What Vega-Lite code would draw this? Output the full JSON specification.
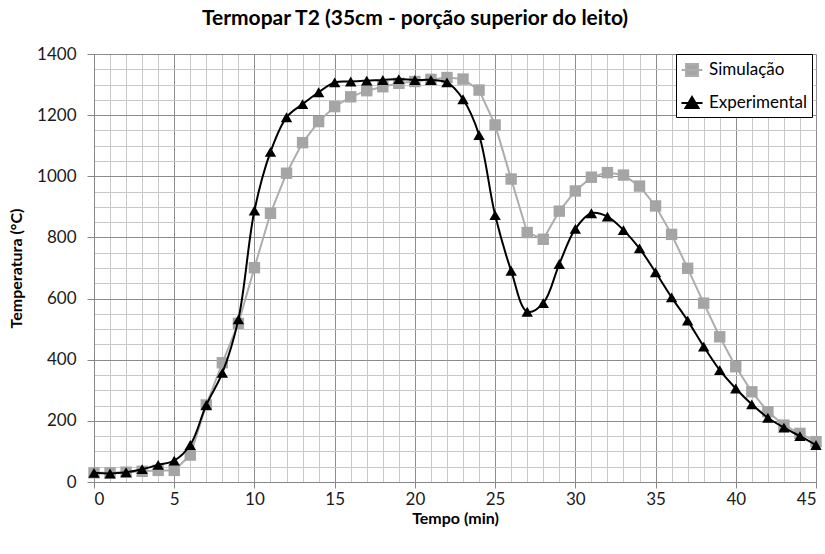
{
  "$schema": "https://vega.github.io/schema/vega-lite/v6.json",
  "width": 722,
  "height": 428,
  "autosize": {"type": "none"},
  "padding": {"left": 94, "top": 54, "right": 9, "bottom": 72},
  "background": "white",
  "title": {
    "text": "Termopar T2 (35cm - porção superior do leito)",
    "font": "Lato",
    "fontSize": 21,
    "fontWeight": "bold",
    "color": "#000000",
    "frame": "group",
    "anchor": "middle",
    "baseline": "alphabetic",
    "offset": 24,
    "dy": 25,
    "dx": -40
  },
  "config": {
    "view": {"stroke": null},
    "font": "Lato"
  },
  "data": {
    "values": [
      {"t": 0, "serie": "Simulação", "temp": 30},
      {"t": 1, "serie": "Simulação", "temp": 30},
      {"t": 2, "serie": "Simulação", "temp": 32},
      {"t": 3, "serie": "Simulação", "temp": 35},
      {"t": 4, "serie": "Simulação", "temp": 38},
      {"t": 5, "serie": "Simulação", "temp": 38},
      {"t": 6, "serie": "Simulação", "temp": 88},
      {"t": 7, "serie": "Simulação", "temp": 252},
      {"t": 8, "serie": "Simulação", "temp": 390},
      {"t": 9, "serie": "Simulação", "temp": 519},
      {"t": 10, "serie": "Simulação", "temp": 701},
      {"t": 11, "serie": "Simulação", "temp": 879},
      {"t": 12, "serie": "Simulação", "temp": 1010},
      {"t": 13, "serie": "Simulação", "temp": 1110},
      {"t": 14, "serie": "Simulação", "temp": 1179},
      {"t": 15, "serie": "Simulação", "temp": 1228},
      {"t": 16, "serie": "Simulação", "temp": 1260},
      {"t": 17, "serie": "Simulação", "temp": 1280},
      {"t": 18, "serie": "Simulação", "temp": 1293},
      {"t": 19, "serie": "Simulação", "temp": 1304},
      {"t": 20, "serie": "Simulação", "temp": 1310},
      {"t": 21, "serie": "Simulação", "temp": 1317},
      {"t": 22, "serie": "Simulação", "temp": 1323},
      {"t": 23, "serie": "Simulação", "temp": 1318},
      {"t": 24, "serie": "Simulação", "temp": 1282},
      {"t": 25, "serie": "Simulação", "temp": 1168},
      {"t": 26, "serie": "Simulação", "temp": 991},
      {"t": 27, "serie": "Simulação", "temp": 816},
      {"t": 28, "serie": "Simulação", "temp": 794},
      {"t": 29, "serie": "Simulação", "temp": 886},
      {"t": 30, "serie": "Simulação", "temp": 952},
      {"t": 31, "serie": "Simulação", "temp": 997},
      {"t": 32, "serie": "Simulação", "temp": 1012},
      {"t": 33, "serie": "Simulação", "temp": 1004},
      {"t": 34, "serie": "Simulação", "temp": 968},
      {"t": 35, "serie": "Simulação", "temp": 903},
      {"t": 36, "serie": "Simulação", "temp": 810},
      {"t": 37, "serie": "Simulação", "temp": 699},
      {"t": 38, "serie": "Simulação", "temp": 585},
      {"t": 39, "serie": "Simulação", "temp": 475},
      {"t": 40, "serie": "Simulação", "temp": 377},
      {"t": 41, "serie": "Simulação", "temp": 295},
      {"t": 42, "serie": "Simulação", "temp": 230},
      {"t": 43, "serie": "Simulação", "temp": 186},
      {"t": 44, "serie": "Simulação", "temp": 159},
      {"t": 45, "serie": "Simulação", "temp": 132},
      {"t": 0, "serie": "Experimental", "temp": 30},
      {"t": 1, "serie": "Experimental", "temp": 28},
      {"t": 2, "serie": "Experimental", "temp": 32},
      {"t": 3, "serie": "Experimental", "temp": 42},
      {"t": 4, "serie": "Experimental", "temp": 56},
      {"t": 5, "serie": "Experimental", "temp": 70},
      {"t": 6, "serie": "Experimental", "temp": 121},
      {"t": 7, "serie": "Experimental", "temp": 252},
      {"t": 8, "serie": "Experimental", "temp": 357},
      {"t": 9, "serie": "Experimental", "temp": 532},
      {"t": 10, "serie": "Experimental", "temp": 888},
      {"t": 11, "serie": "Experimental", "temp": 1080},
      {"t": 12, "serie": "Experimental", "temp": 1193},
      {"t": 13, "serie": "Experimental", "temp": 1236},
      {"t": 14, "serie": "Experimental", "temp": 1275},
      {"t": 15, "serie": "Experimental", "temp": 1307},
      {"t": 16, "serie": "Experimental", "temp": 1310},
      {"t": 17, "serie": "Experimental", "temp": 1313},
      {"t": 18, "serie": "Experimental", "temp": 1315},
      {"t": 19, "serie": "Experimental", "temp": 1318},
      {"t": 20, "serie": "Experimental", "temp": 1315},
      {"t": 21, "serie": "Experimental", "temp": 1315},
      {"t": 22, "serie": "Experimental", "temp": 1307},
      {"t": 23, "serie": "Experimental", "temp": 1252},
      {"t": 24, "serie": "Experimental", "temp": 1135},
      {"t": 25, "serie": "Experimental", "temp": 873},
      {"t": 26, "serie": "Experimental", "temp": 691},
      {"t": 27, "serie": "Experimental", "temp": 557},
      {"t": 28, "serie": "Experimental", "temp": 585},
      {"t": 29, "serie": "Experimental", "temp": 713},
      {"t": 30, "serie": "Experimental", "temp": 828},
      {"t": 31, "serie": "Experimental", "temp": 879},
      {"t": 32, "serie": "Experimental", "temp": 868},
      {"t": 33, "serie": "Experimental", "temp": 824},
      {"t": 34, "serie": "Experimental", "temp": 764},
      {"t": 35, "serie": "Experimental", "temp": 686},
      {"t": 36, "serie": "Experimental", "temp": 604},
      {"t": 37, "serie": "Experimental", "temp": 528},
      {"t": 38, "serie": "Experimental", "temp": 443},
      {"t": 39, "serie": "Experimental", "temp": 366},
      {"t": 40, "serie": "Experimental", "temp": 306},
      {"t": 41, "serie": "Experimental", "temp": 254},
      {"t": 42, "serie": "Experimental", "temp": 210},
      {"t": 43, "serie": "Experimental", "temp": 178},
      {"t": 44, "serie": "Experimental", "temp": 150},
      {"t": 45, "serie": "Experimental", "temp": 121}
    ]
  },
  "encoding": {
    "x": {
      "field": "t",
      "type": "quantitative",
      "scale": {"domain": [0, 45], "nice": false, "zero": false},
      "axis": {
        "title": "Tempo (min)",
        "titleFont": "Lato",
        "titleFontSize": 16,
        "titleFontWeight": "bold",
        "titleColor": "#000000",
        "titlePadding": 3,
        "values": [0,1,2,3,4,5,6,7,8,9,10,11,12,13,14,15,16,17,18,19,20,21,22,23,24,25,26,27,28,29,30,31,32,33,34,35,36,37,38,39,40,41,42,43,44,45],
        "labelExpr": "datum.value % 5 === 0 ? datum.label : ''",
        "labelOverlap": false,
        "labelFont": "Lato",
        "labelFontSize": 17,
        "labelColor": "#1a1a1a",
        "labelPadding": 3,
        "tickSize": 6,
        "tickColor": "#868686",
        "tickOpacity": {"condition": {"test": "datum.value % 5 === 0", "value": 1}, "value": 0},
        "domainColor": "#868686",
        "domainWidth": 1,
        "grid": true,
        "gridColor": {"condition": {"test": "datum.value % 5 === 0", "value": "#8c8c8c"}, "value": "#c8c8c8"},
        "gridWidth": 1
      }
    },
    "y": {
      "field": "temp",
      "type": "quantitative",
      "scale": {"domain": [0, 1400], "nice": false},
      "axis": {
        "title": "Temperatura (°C)",
        "titleFont": "Lato",
        "titleFontSize": 16,
        "titleFontWeight": "bold",
        "titleColor": "#000000",
        "titlePadding": 12,
        "values": [0,50,100,150,200,250,300,350,400,450,500,550,600,650,700,750,800,850,900,950,1000,1050,1100,1150,1200,1250,1300,1350,1400],
        "labelExpr": "datum.value % 200 === 0 ? datum.label : ''",
        "format": "d",
        "labelOverlap": false,
        "labelFont": "Lato",
        "labelFontSize": 17,
        "labelColor": "#1a1a1a",
        "labelPadding": 11,
        "tickSize": 7,
        "tickColor": "#868686",
        "tickOpacity": {"condition": {"test": "datum.value % 200 === 0", "value": 1}, "value": 0},
        "domainColor": "#868686",
        "domainWidth": 1,
        "grid": true,
        "gridColor": {"condition": {"test": "datum.value % 200 === 0", "value": "#8c8c8c"}, "value": "#c8c8c8"},
        "gridWidth": 1
      }
    }
  },
  "layer": [
    {
      "transform": [{"filter": "datum.serie === 'Simulação'"}],
      "mark": {"type": "line", "strokeWidth": 2, "color": "#ADADAD"},
      "encoding": {}
    },
    {
      "transform": [{"filter": "datum.serie === 'Simulação'"}],
      "mark": {"type": "point", "shape": "square", "filled": true, "opacity": 1, "size": 130, "color": "#A5A5A5"},
      "encoding": {}
    },
    {
      "transform": [{"filter": "datum.serie === 'Experimental'"}],
      "mark": {"type": "line", "strokeWidth": 2, "interpolate": "catmull-rom", "color": "#000000"},
      "encoding": {}
    },
    {
      "transform": [{"filter": "datum.serie === 'Experimental'"}],
      "mark": {"type": "point", "shape": "triangle-up", "filled": true, "opacity": 1, "size": 130, "color": "#000000"},
      "encoding": {}
    },
    {
      "description": "legend key: line with marker for each series",
      "transform": [{"filter": "datum.t === 45"}],
      "mark": {"type": "point", "filled": true, "opacity": 0},
      "encoding": {
        "color": {
          "field": "serie",
          "type": "nominal",
          "scale": {"domain": ["Simulação", "Experimental"], "range": ["#A5A5A5", "#000000"]},
          "legend": {
            "title": null,
            "orient": "none",
            "legendX": 582,
            "legendY": 0,
            "direction": "vertical",
            "fillColor": "#ffffff",
            "strokeColor": "#000000",
            "padding": 5,
            "labelFont": "Lato",
            "labelFontSize": 17,
            "labelColor": "#000000",
            "symbolSize": 400,
            "symbolStrokeWidth": 2,
            "symbolOpacity": 1,
            "labelOffset": 6,
            "rowPadding": 12,
            "values": ["Simulação", "Experimental"]
          }
        },
        "stroke": {
          "field": "serie",
          "type": "nominal",
          "scale": {"domain": ["Simulação", "Experimental"], "range": ["#ADADAD", "#000000"]},
          "legend": {
            "title": null,
            "orient": "none",
            "legendX": 582,
            "legendY": 0,
            "direction": "vertical",
            "fillColor": "#ffffff",
            "strokeColor": "#000000",
            "padding": 5,
            "labelFont": "Lato",
            "labelFontSize": 17,
            "labelColor": "#000000",
            "symbolSize": 400,
            "symbolStrokeWidth": 2,
            "symbolOpacity": 1,
            "labelOffset": 6,
            "rowPadding": 12,
            "values": ["Simulação", "Experimental"]
          }
        },
        "shape": {
          "field": "serie",
          "type": "nominal",
          "scale": {"domain": ["Simulação", "Experimental"], "range": ["M-1.05,0H1.05M-0.6,-0.6H0.6V0.6H-0.6Z", "M-1.05,0H1.05M0,-0.6L0.65,0.5H-0.65Z"]},
          "legend": {
            "title": null,
            "orient": "none",
            "legendX": 582,
            "legendY": 0,
            "direction": "vertical",
            "fillColor": "#ffffff",
            "strokeColor": "#000000",
            "padding": 5,
            "labelFont": "Lato",
            "labelFontSize": 17,
            "labelColor": "#000000",
            "symbolSize": 400,
            "symbolStrokeWidth": 2,
            "symbolOpacity": 1,
            "labelOffset": 6,
            "rowPadding": 12,
            "values": ["Simulação", "Experimental"]
          }
        }
      }
    }
  ]
}
